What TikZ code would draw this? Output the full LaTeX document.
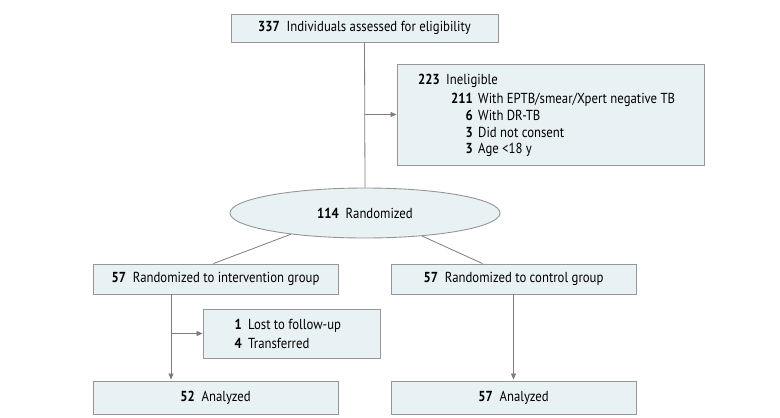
\documentclass[tikz,border=0pt]{standalone}
\usepackage{fontspec}
\setmainfont[FakeStretch=0.88]{PT Sans}
\usetikzlibrary{shapes.geometric,arrows.meta,calc}
\definecolor{boxfill}{RGB}{232,241,243}
\definecolor{boxdraw}{RGB}{150,150,150}
\definecolor{linecol}{RGB}{125,125,125}
\begin{document}
\begin{tikzpicture}[x=1pt,y=-1pt,
  box/.style={draw=boxdraw,fill=boxfill,line width=0.9pt,inner sep=0pt,font=\fontsize{14.5}{16}\selectfont},
  txt/.style={inner sep=0pt,font=\fontsize{14.5}{16}\selectfont},
  conn/.style={draw=linecol,line width=0.8pt},
  arr/.style={conn,-{Triangle[length=6pt,width=5pt]}}]
\useasboundingbox (0,0) rectangle (780,418);
\node[box,minimum width=267pt,minimum height=28pt] (top) at (364.5,28) {\textbf{337}\ \ Individuals assessed for eligibility};
\node[box,minimum width=307pt,minimum height=101pt] (inel) at (550.5,114.5) {};
\node[txt,anchor=base east] (n1) at (440,84) {\textbf{223}};
\node[txt,anchor=base west] (t1) at (446,84) {Ineligible};
\node[txt,anchor=base east] (n2) at (473,103) {\textbf{211}};
\node[txt,anchor=base west] (t2) at (478,103) {With EPTB/smear/Xpert negative TB};
\node[txt,anchor=base east] (n3) at (473,120) {\textbf{6}};
\node[txt,anchor=base west] (t3) at (478,120) {With DR-TB};
\node[txt,anchor=base east] (n4) at (473,137) {\textbf{3}};
\node[txt,anchor=base west] (t4) at (478,137) {Did not consent};
\node[txt,anchor=base east] (n5) at (473,153) {\textbf{3}};
\node[txt,anchor=base west] (t5) at (478,153) {Age <18 y};
\node[box,ellipse,minimum width=270pt,minimum height=50pt] (rand) at (365,213) {\textbf{114}\ \ Randomized};
\node[box,minimum width=245pt,minimum height=30pt] (int) at (215.5,279) {\textbf{57}\ \ Randomized to intervention group};
\node[box,minimum width=245pt,minimum height=30pt] (ctl) at (513.5,279) {\textbf{57}\ \ Randomized to control group};
\node[box,minimum width=177pt,minimum height=49pt] (lost) at (291.5,333.5) {};
\node[txt,anchor=base east] (n6) at (242,329) {\textbf{1}};
\node[txt,anchor=base west] (t6) at (248,329) {Lost to follow-up};
\node[txt,anchor=base east] (n7) at (242,348) {\textbf{4}};
\node[txt,anchor=base west] (t7) at (248,348) {Transferred};
\node[box,minimum width=245pt,minimum height=33pt] (an1) at (215.5,397.5) {\textbf{52}\ \ Analyzed};
\node[box,minimum width=245pt,minimum height=33pt] (an2) at (513.5,397.5) {\textbf{57}\ \ Analyzed};
\coordinate (ls) at ([xshift=-44.5pt]int.south);
\coordinate (le) at ([xshift=-44.5pt]an1.north);
\draw[conn] (top.south) -- (rand.north);
\draw[arr] (top.south |- inel.west) -- (inel.west);
\draw[conn] (rand.196) -- ([xshift=-2pt]int.north);
\draw[conn] (rand.338) -- ([xshift=-31pt]ctl.north);
\draw[arr,shorten >=1pt] (ls) -- (le);
\draw[arr] (ls |- lost.west) -- (lost.west);
\draw[arr,shorten >=1pt] (ctl.south) -- (an2.north);
\end{tikzpicture}
\end{document}
